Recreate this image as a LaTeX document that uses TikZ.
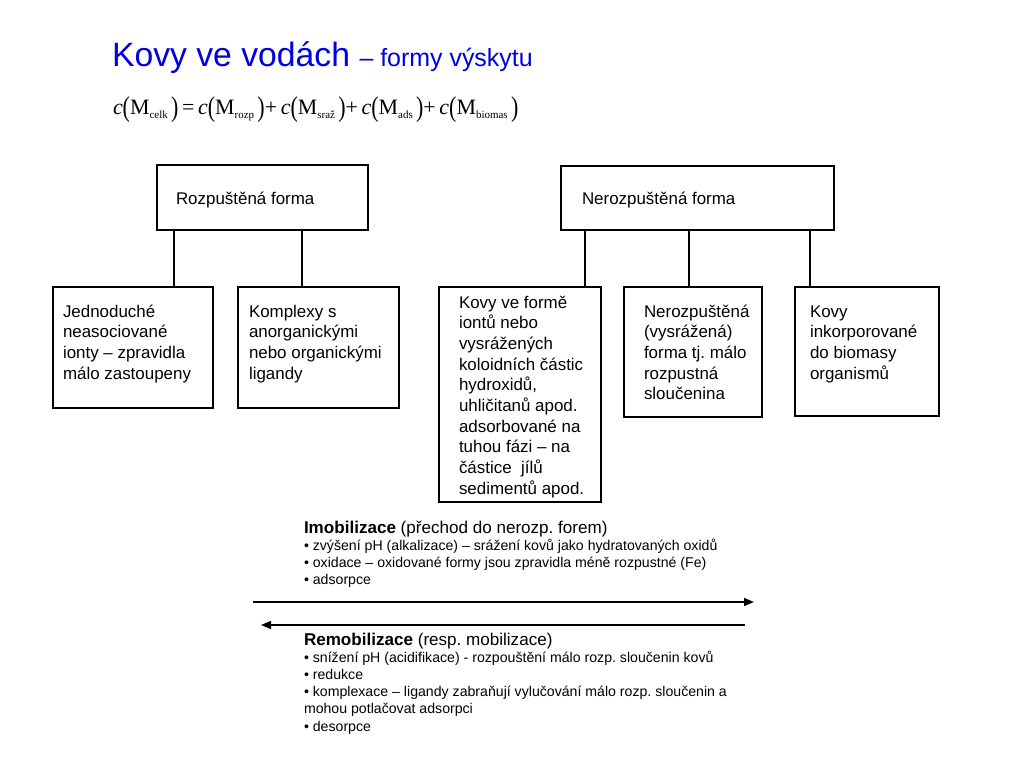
\documentclass[tikz,border=0pt]{standalone}
\usepackage{fontspec}
\setmainfont{Liberation Sans}
\newfontfamily\tnr{Liberation Serif}
\usepackage{graphicx}
\usetikzlibrary{arrows.meta}
\newdimen\px \px=0.75pt
\definecolor{titleblue}{RGB}{0,0,225}
\frenchspacing
\newcommand\boxcontent[5]{\parbox[c][#2\px][t]{#1\px}{\fontsize{12.7pt}{15.5pt}\selectfont\raggedright\leftskip=#3\px\rule{0pt}{#4\px}#5}}
\newcommand\fpar[1]{\raisebox{-0.12em}{\scalebox{1}[1.3]{#1}}}
\newcommand\msub[1]{M\raisebox{-0.22em}{\fontsize{9.5pt}{10pt}\selectfont #1}}
\newcommand\cterm[1]{\textit{c}\fpar{(}\msub{#1}\hspace{0.15em}\fpar{)}}
\tikzset{
  box/.style={draw, line width=0.8pt, inner sep=0pt, outer sep=0pt, anchor=north west},
  conn/.style={line width=0.8pt},
  arr/.style={line width=1.2pt, -{Triangle[length=7.5pt,width=6pt]}},
  plain/.style={inner sep=0pt, outer sep=0pt, anchor=base west}
}
\begin{document}
\begin{tikzpicture}[x=0.75pt, y=-0.75pt]
\useasboundingbox (0,0) rectangle (1024,768);
% title
\node[plain, text=titleblue] (title) at (112,66) {\fontsize{25.3pt}{30pt}\selectfont Kovy ve vodách {\fontsize{18.7pt}{22pt}\selectfont – formy výskytu}};
\node[plain] (eq) at (113,114) {\resizebox{304pt}{!}{\tnr\fontsize{19pt}{22pt}\selectfont\cterm{celk}\,=\,\cterm{rozp}+\,\cterm{sraž}+\,\cterm{ads}+\,\cterm{biomas}}};
% top boxes
\node[box] (R) at (157,165) {\boxcontent{211}{65}{19}{39}{Rozpuštěná forma}};
\node[box] (N) at (561,166) {\boxcontent{273}{64}{21}{38}{Nerozpuštěná forma}};
% lower boxes
\node[box] (B1) at (53,287) {\boxcontent{160}{121}{10}{30}{Jednoduché\\neasociované\\ionty – zpravidla\\málo zastoupeny}};
\node[box] (B2) at (238,287) {\boxcontent{161}{121}{11}{30}{Komplexy s\\anorganickými\\nebo organickými\\ligandy}};
\node[box] (B3) at (439,287) {\boxcontent{162}{215}{20}{21}{Kovy ve formě\\iontů nebo\\vysrážených\\koloidních částic\\hydroxidů,\\uhličitanů apod.\\adsorbované na\\tuhou fázi – na\\částice\ \ jílů\\sedimentů apod.}};
\node[box] (B4) at (624,287) {\boxcontent{138}{130}{20}{30}{Nerozpuštěná\\(vysrážená)\\forma tj. málo\\rozpustná\\sloučenina}};
\node[box] (B5) at (795,287) {\boxcontent{144}{129}{15}{30}{Kovy\\inkorporované\\do biomasy\\organismů}};
% connectors
\draw[conn] ([xshift=17\px]R.south west) -- ([xshift=17\px]R.south west |- B1.north);
\draw[conn] ([xshift=145\px]R.south west) -- ([xshift=145\px]R.south west |- B2.north);
\draw[conn] ([xshift=24\px]N.south west) -- ([xshift=24\px]N.south west |- B3.north);
\draw[conn] ([xshift=128\px]N.south west) -- ([xshift=128\px]N.south west |- B4.north);
\draw[conn] ([xshift=249\px]N.south west) -- ([xshift=249\px]N.south west |- B5.north);
% arrows
\coordinate (i1) at (253,602);
\coordinate (i2) at (754,602);
\coordinate (r1) at (745,625);
\coordinate (r2) at (261,625);
\draw[arr] (i1) -- (i2);
\draw[arr] (r1) -- (r2);
% text blocks
\node[plain] (imob) at (304,533) {\parbox[t]{480\px}{\raggedright\fontsize{12.8pt}{15pt}\selectfont\textbf{Imobilizace} (přechod do nerozp. forem)\par
\fontsize{10.6pt}{12.75pt}\selectfont • zvýšení pH (alkalizace) – srážení kovů jako hydratovaných oxidů\par
• oxidace – oxidované formy jsou zpravidla méně rozpustné (Fe)\par
• adsorpce}};
\node[plain] (remob) at (304,645) {\parbox[t]{480\px}{\raggedright\fontsize{12.8pt}{15pt}\selectfont\textbf{Remobilizace} (resp. mobilizace)\par
\fontsize{10.6pt}{12.9pt}\selectfont • snížení pH (acidifikace) - rozpouštění málo rozp. sloučenin kovů\par
• redukce\par
• komplexace – ligandy zabraňují vylučování málo rozp. sloučenin a\\mohou potlačovat adsorpci\par
• desorpce}};
\end{tikzpicture}
\end{document}
